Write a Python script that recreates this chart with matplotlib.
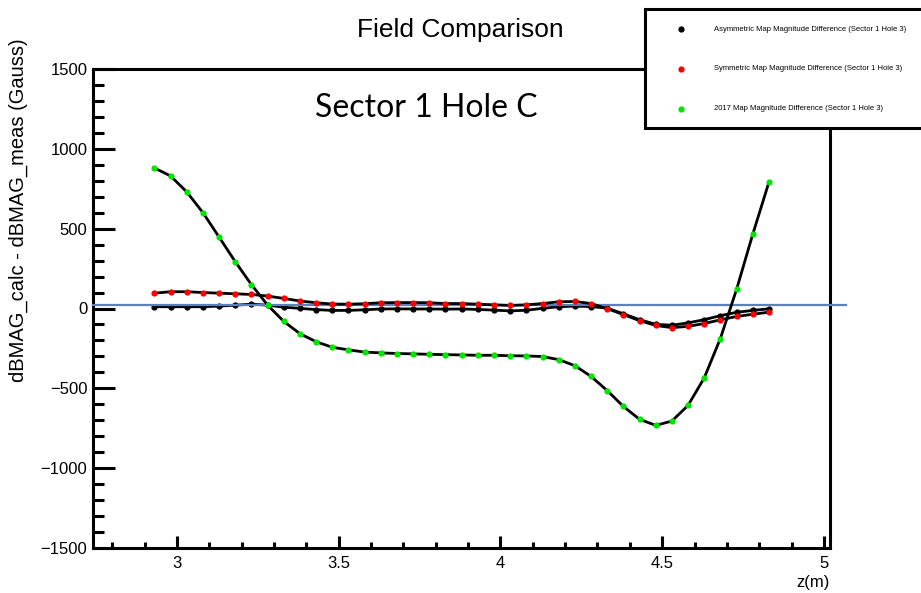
import matplotlib
matplotlib.use("Agg")
import matplotlib.pyplot as plt
import numpy as np
from matplotlib.patches import Rectangle
from matplotlib.lines import Line2D
from matplotlib.ticker import MultipleLocator

plt.rcParams['font.family'] = ['Liberation Sans', 'DejaVu Sans']

# z positions (m), one every 5 cm
z = np.round(np.arange(2.93, 4.8301, 0.05), 2)

# field magnitude differences (Gauss)
asym = [11, 11, 11, 11, 15, 21, 27, 21, 8, 1, -7, -12, -12, -8, -3, -2, -3, -3, -4, -3,
        -6, -10, -15, -11, 1, 11, 15, 12, 2, -33, -70, -99, -105, -90, -70, -45, -24, -12, -2]
sym = [96, 105, 105, 100, 96, 92, 88, 78, 63, 47, 36, 28, 27, 30, 36, 37, 37, 36, 31, 31,
       27, 23, 19, 23, 31, 42, 44, 31, -1, -38, -76, -106, -120, -112, -94, -71, -50, -36, -23]
map2017 = [880, 830, 730, 600, 447, 293, 149, 21, -81, -158, -208, -243, -259, -273, -278,
           -282, -284, -287, -289, -291, -293, -293, -296, -297, -301, -320, -358, -425, -514,
           -613, -694, -732, -705, -607, -435, -188, 119, 464, 790]

ref_level = 25

labels = ["Asymmetric Map Magnitude Difference (Sector 1 Hole 3)",
          "Symmetric Map Magnitude Difference (Sector 1 Hole 3)",
          "2017 Map Magnitude Difference (Sector 1 Hole 3)"]
colors = ["black", "#ff0000", "#00e600"]

fig = plt.figure(figsize=(9.21, 5.93), dpi=100)
ax = fig.add_axes([93 / 921, 45 / 593, 737 / 921, 479 / 593])

ax.plot(z, asym, color="black", lw=2, zorder=3)
ax.plot(z, asym, "o", color=colors[0], ms=4.5, mec="none", zorder=3)
ax.plot([2.74, 5.07], [ref_level, ref_level], color="#5b80bb", lw=1.6, zorder=4, clip_on=False)
ax.plot(z, sym, color="black", lw=2, zorder=5)
ax.plot(z, sym, "o", color=colors[1], ms=4.5, mec="none", zorder=5)
ax.plot(z, map2017, color="black", lw=2, zorder=6)
ax.plot(z, map2017, "o", color=colors[2], ms=4.5, mec="none", zorder=6)

ax.set_xlim(2.74, 5.019)
ax.set_ylim(-1500, 1500)
ax.xaxis.set_major_locator(MultipleLocator(0.5))
ax.xaxis.set_minor_locator(MultipleLocator(0.1))
ax.yaxis.set_major_locator(MultipleLocator(500))
ax.yaxis.set_minor_locator(MultipleLocator(100))
ax.set_xticks([3, 3.5, 4, 4.5, 5])
ax.set_xticklabels(["3", "3.5", "4", "4.5", "5"])
ax.set_yticks([-1500, -1000, -500, 0, 500, 1000, 1500])
ax.set_yticklabels(["\u22121500", "\u22121000", "\u2212500", "0", "500", "1000", "1500"])

for s in ax.spines.values():
    s.set_linewidth(2.2)
ax.tick_params(axis="both", which="both", direction="in", width=2.2, labelsize=12,
               top=False, right=False)
ax.tick_params(axis="y", which="major", length=16, pad=4)
ax.tick_params(axis="y", which="minor", length=8)
ax.tick_params(axis="x", which="major", length=9, pad=6)
ax.tick_params(axis="x", which="minor", length=4.5)

fig.text(830 / 921, 1 - 582 / 593, "z(m)", ha="right", va="center", fontsize=12)
fig.text(18 / 921, 1 - 38 / 593, "dBMAG_calc - dBMAG_meas (Gauss)", rotation=90,
         ha="center", va="top", fontsize=14.5)
fig.text(460 / 921, 1 - 30 / 593, "Field Comparison", ha="center", va="center", fontsize=19)
fig.text(426 / 921, 1 - 108 / 593, "Sector 1 Hole C", ha="center", va="center",
         fontsize=23, family=["Lato", "DejaVu Sans"])

# legend box sits on top of the frame
fig.patches.append(Rectangle((645 / 921, 1 - 128 / 593), 300 / 921, 119 / 593,
                             transform=fig.transFigure, facecolor="white",
                             edgecolor="black", lw=2.2, zorder=10))
for k, (lab, col) in enumerate(zip(labels, colors)):
    yy = 1 - (29.3 + 39.7 * k) / 593
    fig.lines.append(Line2D([681 / 921], [yy], marker="o", ms=4.5, color=col, mec="none",
                            transform=fig.transFigure, zorder=11))
    fig.text(714 / 921, yy, lab, ha="left", va="center", fontsize=5.5, zorder=11)

fig.savefig("out.png", dpi=100)
